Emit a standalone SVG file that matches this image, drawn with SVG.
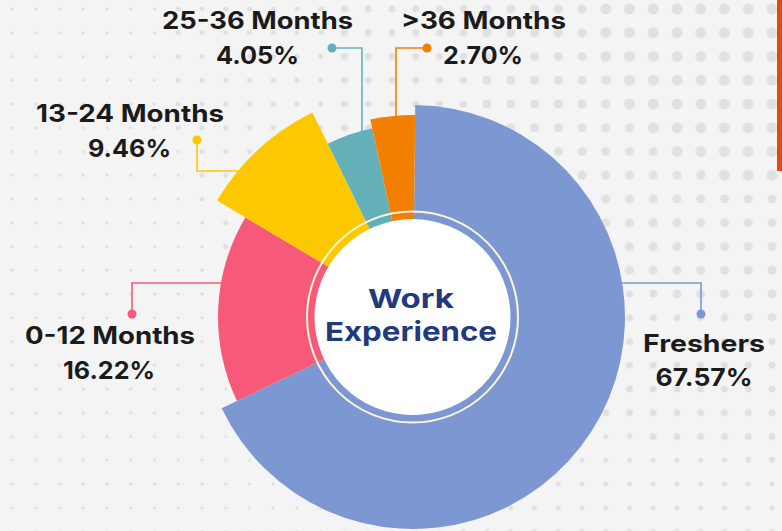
<svg xmlns="http://www.w3.org/2000/svg" width="782" height="531" viewBox="0 0 782 531">
<style>
.lbl{font-family:Inter,"Open Sans","DejaVu Sans",sans-serif;font-weight:700;font-size:24px;fill:#1b1b1b;text-anchor:middle}
.ttl{font-family:Inter,"Open Sans","DejaVu Sans",sans-serif;font-weight:700;font-size:26px;fill:#213a7e;text-anchor:middle}
.con{fill:none;stroke-width:1.6}
</style>
<defs>
<pattern id="d1" patternUnits="userSpaceOnUse" x="0.125" y="-2.875" width="23.75" height="23.75"><circle cx="11.875" cy="11.875" r="1.5" fill="#dcdcdc"/></pattern>
<pattern id="d2" patternUnits="userSpaceOnUse" x="0.125" y="-2.875" width="23.75" height="23.75"><circle cx="11.875" cy="11.875" r="2.5" fill="#e0e0e0"/></pattern>
<pattern id="d3" patternUnits="userSpaceOnUse" x="0.125" y="-2.875" width="23.75" height="23.75"><circle cx="11.875" cy="11.875" r="3.5" fill="#e0e0e0"/></pattern>
<pattern id="d4" patternUnits="userSpaceOnUse" x="0.125" y="-2.875" width="23.75" height="23.75"><circle cx="11.875" cy="11.875" r="4.5" fill="#e1e1e1"/></pattern>
<pattern id="d5" patternUnits="userSpaceOnUse" x="0.125" y="-2.875" width="23.75" height="23.75"><circle cx="11.875" cy="11.875" r="5.5" fill="#e1e1e1"/></pattern>
</defs>
<g id="background">
<rect width="782" height="531" fill="#f4f4f4"/>
<rect width="782" height="531" fill="url(#d1)"/>
<circle cx="782" cy="0" r="620" fill="url(#d2)"/>
<circle cx="782" cy="0" r="460" fill="url(#d3)"/>
<circle cx="782" cy="0" r="320" fill="url(#d4)"/>
<circle cx="782" cy="0" r="190" fill="url(#d5)"/>
<rect x="777" y="0" width="5" height="171" fill="#e8470f"/>
</g>
<g id="connectors">
<polyline class="con" stroke="#64b0b8" points="332,48 362,48 362,132"/>
<circle cx="332" cy="48" r="4.5" fill="#64b0b8"/>
<polyline class="con" stroke="#f27f00" points="427,48 396,48 396,118"/>
<circle cx="427" cy="48" r="4.5" fill="#f27f00"/>
<polyline class="con" stroke="#fdc800" points="197,140 197,171 239,171"/>
<circle cx="197" cy="140" r="4.5" fill="#fdc800"/>
<polyline class="con" stroke="#f65a78" points="132,314 132,283 222,283"/>
<circle cx="132" cy="314" r="4.5" fill="#f65a78"/>
<polyline class="con" stroke="#7c97d1" points="701,314 701,283 621,283"/>
<circle cx="701" cy="314" r="4.5" fill="#7c97d1"/>
</g>
<g id="freshers">
<path d="M413,317 L415.22,105.01 A212,212 0 1 1 221.65,408.27 Z" fill="#7c97d1"/>
<text class="lbl" x="704" y="352" textLength="122" lengthAdjust="spacingAndGlyphs">Freshers</text>
<text class="lbl" x="704" y="386" textLength="97" lengthAdjust="spacingAndGlyphs">67.57%</text>
</g>
<g id="m0-12">
<path d="M413,317 L236.99,400.95 A195,195 0 0 1 245.33,217.44 Z" fill="#f65a78"/>
<text class="lbl" x="110" y="344" textLength="170" lengthAdjust="spacingAndGlyphs">0-12 Months</text>
<text class="lbl" x="109" y="379" textLength="92" lengthAdjust="spacingAndGlyphs">16.22%</text>
</g>
<g id="m13-24">
<path d="M413,317 L216.95,200.60 A228,228 0 0 1 312.34,112.42 Z" fill="#fdc800"/>
<text class="lbl" x="130" y="122" textLength="188" lengthAdjust="spacingAndGlyphs">13-24 Months</text>
<text class="lbl" x="129.5" y="157" textLength="83" lengthAdjust="spacingAndGlyphs">9.46%</text>
</g>
<g id="m25-36">
<path d="M413,317 L327.79,143.83 A193,193 0 0 1 372.21,128.36 Z" fill="#64b0b8"/>
<text class="lbl" x="257.5" y="29" textLength="191" lengthAdjust="spacingAndGlyphs">25-36 Months</text>
<text class="lbl" x="257.5" y="64" textLength="83" lengthAdjust="spacingAndGlyphs">4.05%</text>
</g>
<g id="m36plus">
<path d="M413,317 L370.31,119.56 A202,202 0 0 1 415.12,115.01 Z" fill="#f27f00"/>
<text class="lbl" x="483.5" y="29" textLength="165" lengthAdjust="spacingAndGlyphs">&gt;36 Months</text>
<text class="lbl" x="483" y="64" textLength="80" lengthAdjust="spacingAndGlyphs">2.70%</text>
</g>
<g id="center">
<circle cx="412.5" cy="317" r="105.5" fill="none" stroke="#fdf6dc" stroke-width="2"/>
<circle cx="412.5" cy="317" r="98" fill="#ffffff"/>
<text class="ttl" x="411" y="308" textLength="86" lengthAdjust="spacingAndGlyphs">Work</text>
<text class="ttl" x="411" y="341" textLength="172" lengthAdjust="spacingAndGlyphs">Experience</text>
</g>
</svg>
